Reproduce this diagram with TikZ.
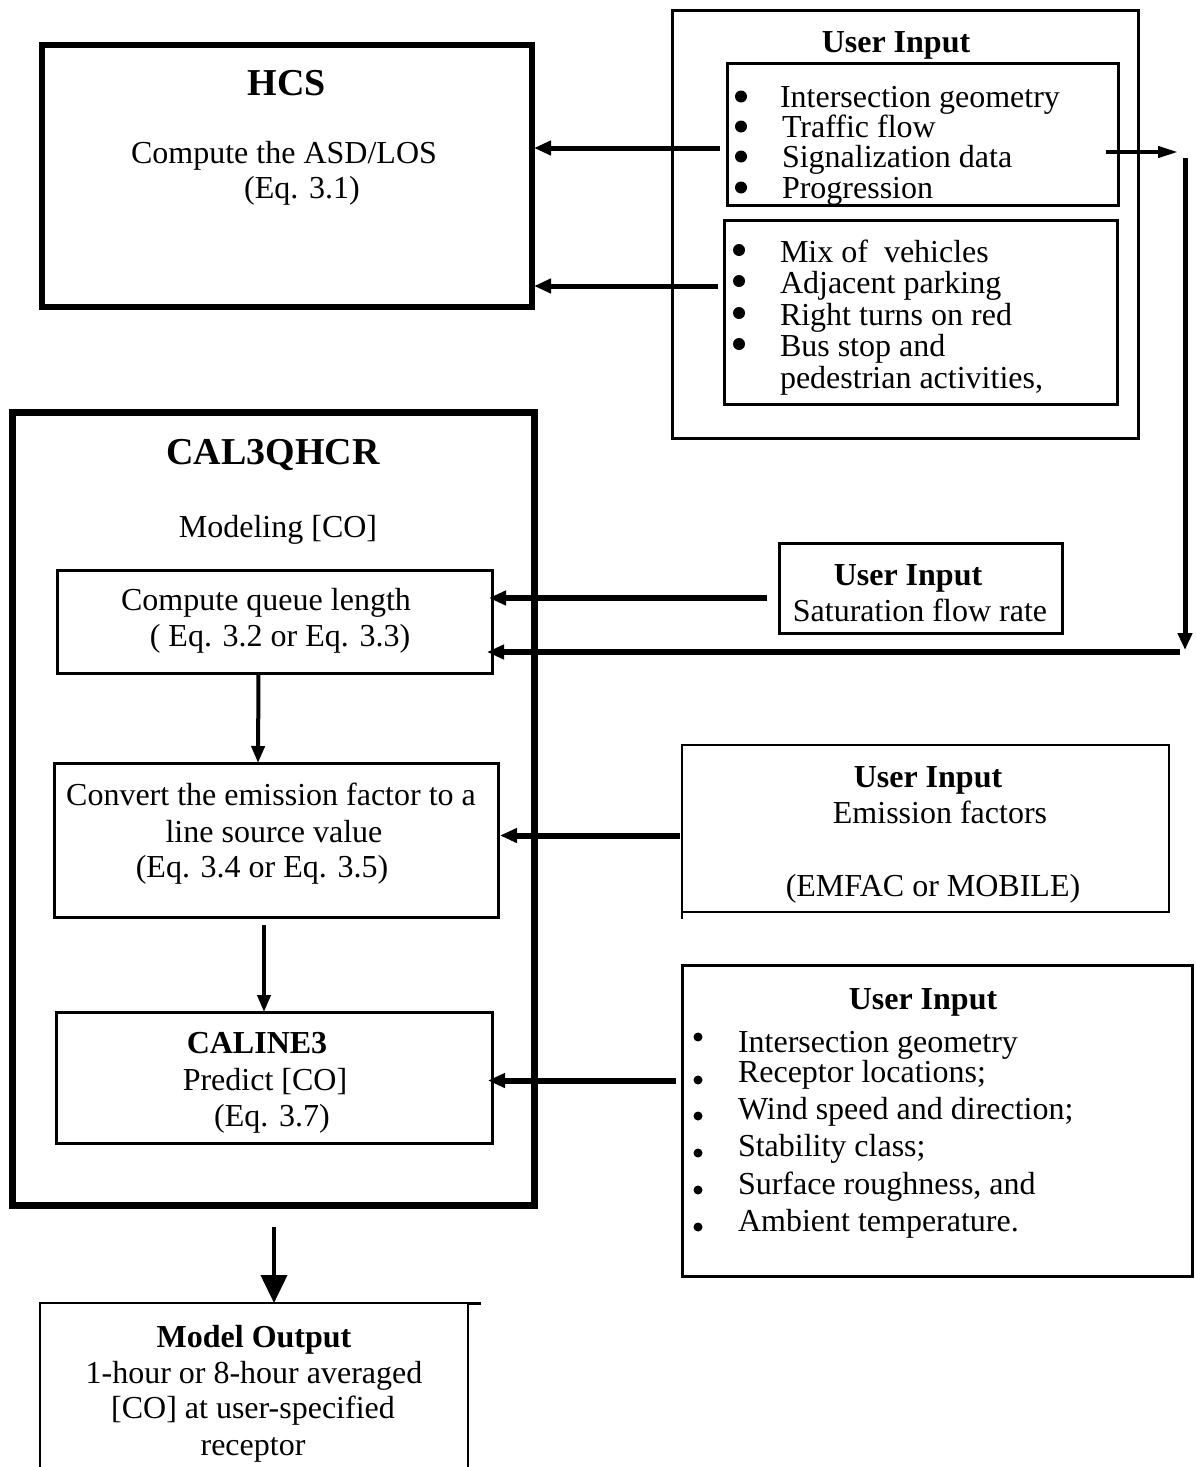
\documentclass[tikz,border=0pt]{standalone}
\usepackage{fontspec}
\setmainfont{Liberation Serif}
\usetikzlibrary{arrows.meta}
\begin{document}
\begin{tikzpicture}[x=1pt,y=-1pt,
  bx/.style={draw, line width=3pt, inner sep=0pt, outer sep=0pt},
  txt/.style={inner sep=0pt, outer sep=0pt, anchor=base, font=\fontsize{32}{32}\selectfont},
  btxt/.style={txt, font=\fontsize{32}{32}\selectfont\bfseries},
  ttxt/.style={txt, font=\fontsize{38}{38}\selectfont\bfseries},
  ltxt/.style={txt, anchor=base west},
  arr/.style={line width=5pt, -{Triangle[length=17pt,width=14pt]}},
  varr/.style={line width=4pt, -{Triangle[length=17pt,width=13pt]}},
  bul/.style={fill=black}]
\useasboundingbox (0,0) rectangle (1195,1467);

% ---------------- HCS
\node[bx, line width=6pt, minimum width=490pt, minimum height=262pt] (hcs) at (287,176) {};
\node[ttxt] (hcsT) at (287,95) {HCS};
\node[txt] (hcs1) at (284,163) {Compute the ASD/LOS};
\node[txt] (hcs2) at (302,198) {(Eq. 3.1)};

% ---------------- top user input
\node[bx, minimum width=466pt, minimum height=428pt] (uiA) at (905,224) {};
\node[btxt] (uiAT) at (896,52) {User Input};
\node[bx, minimum width=391pt, minimum height=142pt] (inA) at (922.5,134) {};
\node[ltxt] (inA1) at (780,107) {Intersection geometry};
\node[ltxt] (inA2) at (782,137) {Traffic flow};
\node[ltxt] (inA3) at (782,167) {Signalization data};
\node[ltxt] (inA4) at (782,198) {Progression};
\foreach \yy in {107,137,167,198} \fill[bul] (741,\yy-10.5) circle (6);

\node[bx, minimum width=393pt, minimum height=184pt] (inB) at (920.5,312) {};
\node[ltxt] (inB1) at (780,262) {Mix of\ \ vehicles};
\node[ltxt] (inB2) at (780,293) {Adjacent parking};
\node[ltxt] (inB3) at (780,325) {Right turns on red};
\node[ltxt] (inB4) at (780,356) {Bus stop and};
\node[ltxt] (inB5) at (780,388) {pedestrian activities,};
\foreach \yy in {262,293,325,356} \fill[bul] (739,\yy-12) circle (6);

% ---------------- CAL3QHCR
\node[bx, line width=7pt, minimum width=522pt, minimum height=793pt] (cal) at (273,808.5) {};
\node[ttxt] (calT) at (273,464) {CAL3QHCR};
\node[txt] (calM) at (278,537) {Modeling [CO]};

\node[bx, minimum width=435pt, minimum height=103pt] (que) at (274.5,621.5) {};
\node[txt] (que1) at (266,610) {Compute queue length};
\node[txt] (que2) at (280,646) {( Eq. 3.2 or Eq. 3.3)};

\node[bx, minimum width=444pt, minimum height=154pt] (conv) at (276,840) {};
\node[txt] (conv1) at (271,805) {Convert the emission factor to a};
\node[txt] (conv2) at (274,842) {line source value};
\node[txt] (conv3) at (262,877) {(Eq. 3.4 or Eq. 3.5)};

\node[bx, minimum width=436pt, minimum height=131pt] (cln) at (274,1077.5) {};
\node[btxt] (cln1) at (257,1053) {CALINE3};
\node[txt] (cln2) at (265,1090) {Predict [CO]};
\node[txt] (cln3) at (272,1126) {(Eq. 3.7)};

% ---------------- saturation input
\node[bx, minimum width=283pt, minimum height=90pt] (sat) at (920.5,588) {};
\node[btxt] (satT) at (908,585) {User Input};
\node[txt] (sat1) at (920,621) {Saturation flow rate};

% ---------------- emission input
\node[bx, line width=2.5pt, minimum width=487pt, minimum height=167pt] (emi) at (925.5,828.5) {};
\draw[line width=2.5pt] (emi.south west) -- ++(0,7);
\node[btxt] (emiT) at (928,787) {User Input};
\node[txt] (emi1) at (940,823) {Emission factors};
\node[txt] (emi2) at (933,896) {(EMFAC or MOBILE)};

% ---------------- meteorology input
\node[bx, minimum width=510pt, minimum height=311pt] (met) at (937,1120.5) {};
\node[btxt] (metT) at (923,1009) {User Input};
\node[ltxt] (met1) at (738,1052) {Intersection geometry};
\node[ltxt] (met2) at (738,1082) {Receptor locations;};
\node[ltxt] (met3) at (738,1119) {Wind speed and direction;};
\node[ltxt] (met4) at (738,1156) {Stability class;};
\node[ltxt] (met5) at (738,1194) {Surface roughness, and};
\node[ltxt] (met6) at (738,1231) {Ambient temperature.};
\foreach \yy in {1037,1080,1116,1153,1190,1227} \fill[bul] (698,\yy) circle (4.5);

% ---------------- model output
\node[minimum width=428pt, minimum height=164pt, inner sep=0pt, outer sep=0pt, anchor=north west] (out) at (40,1303) {};
\draw[line width=2pt] (out.south west) -- (out.north west) -- (out.north east) -- (out.south east);
\draw[line width=3pt] (out.north east) -- ++(13,0);
\node[btxt] (out0) at (254,1347) {Model Output};
\node[txt] (out1) at (254,1383) {1-hour or 8-hour averaged};
\node[txt] (out2) at (253,1418) {[CO] at user-specified};
\node[txt] (out3) at (253,1455) {receptor};

% ---------------- connectors
\draw[arr] ([xshift=-7pt,yshift=-14pt]inA.west) coordinate (a1) -- ([xshift=2pt]hcs.east |- a1);
\draw[arr] ([xshift=-6pt,yshift=26pt]inB.west) coordinate (a2) -- ([xshift=2pt]hcs.east |- a2);
\draw[line width=4pt, -{Triangle[length=20pt,width=11pt]}] ([xshift=-12pt,yshift=-18pt]inA.east) coordinate (a3) -- ++(72,0) coordinate (a3e);
\draw[arr] ([xshift=7pt,yshift=-6pt]a3e) coordinate (a4) -- ++(0,492) coordinate (a4e);
\draw[line width=6pt, -{Triangle[length=17pt,width=14pt]}] ([xshift=-5pt,yshift=-2pt]a4e) coordinate (a5) -- ([xshift=-5pt]que.east |- a5);
\draw[line width=6pt, -{Triangle[length=17pt,width=14pt]}] ([xshift=-12pt,yshift=-10pt]sat.west) coordinate (a6) -- ([xshift=-3pt]que.east |- a6);
\draw[varr] ([xshift=-16pt]que.south) coordinate (a7) -- ([xshift=-18pt]conv.north);
\draw[line width=6pt, -{Triangle[length=17pt,width=14pt]}] ([xshift=-2pt,yshift=-7pt]emi.west) coordinate (a8) -- ([xshift=2pt]conv.east |- a8);
\draw[varr] ([xshift=-12pt,yshift=-8pt]conv.south) coordinate (a9) -- ([xshift=-10pt]cln.north);
\draw[line width=6pt, -{Triangle[length=17pt,width=14pt]}] ([xshift=-6pt,yshift=40pt]met.west) coordinate (a10) -- ([xshift=-4pt]cln.east |- a10);
\draw[line width=4pt, -{Triangle[length=28pt,width=26pt]}] ([xshift=1pt,yshift=-22pt]cal.south) coordinate (a11) -- (a11 |- out.north);
\end{tikzpicture}
\end{document}
